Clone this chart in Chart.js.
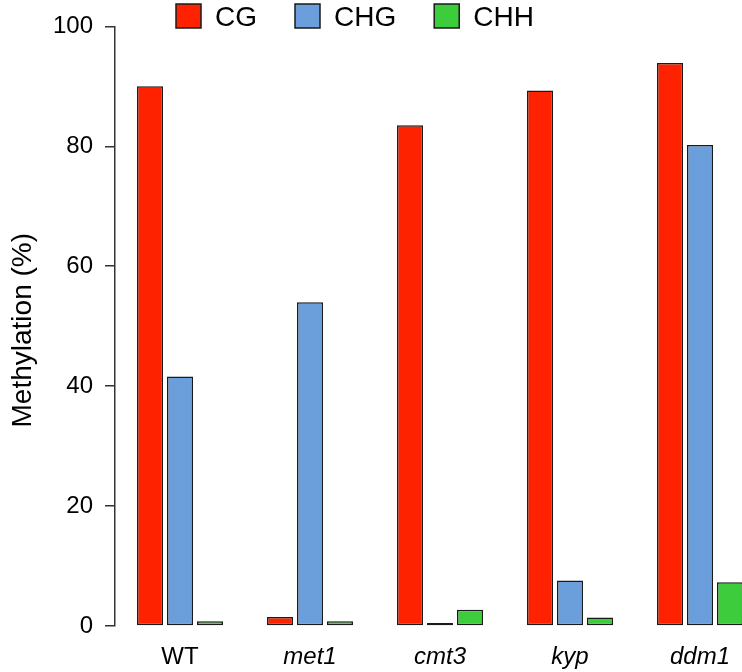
<!DOCTYPE html>
<html lang="en">
<head>
<meta charset="UTF-8">
<title>Methylation by context</title>
<script src="https://cdn.jsdelivr.net/npm/chart.js"></script>
<style>
  html, body { margin: 0; padding: 0; overflow: hidden; background: #fff; }
  canvas { display: block; }
</style>
</head>
<body>
<canvas id="chart" width="765" height="672"></canvas>
<script>
  const categories = ['WT', 'met1', 'cmt3', 'kyp', 'ddm1'];
  const seriesNames = ['CG', 'CHG', 'CHH'];
  const cgValues = [90.0, 1.5, 83.5, 89.3, 93.9];
  const chgValues = [41.6, 54.0, 0.5, 7.6, 80.2];
  const chhValues = [0.8, 0.8, 2.7, 1.4, 7.3];
  const yTicks = [0, 20, 40, 60, 80, 100];
  const colors = ['#ff2200', '#6a9fdb', '#3ccc3c'];

  const FONT = "'Liberation Sans', Arial, sans-serif";

  // legend + rotated y title drawn by hand so they can sit where R put them
  const extras = {
    id: 'extras',
    afterDraw(chart) {
      const ctx = chart.ctx;
      ctx.save();
      ctx.font = '28px ' + FONT;
      ctx.textBaseline = 'alphabetic';
      ctx.textAlign = 'left';
      let x = 176;
      chart.data.datasets.forEach(ds => {
        ctx.fillStyle = ds.backgroundColor;
        ctx.fillRect(x, 4, 25, 24);
        ctx.strokeStyle = '#1a1a1a';
        ctx.lineWidth = 1.5;
        ctx.strokeRect(x, 4, 25, 24);
        ctx.fillStyle = '#000';
        ctx.fillText(ds.label, x + 39, 26);
        x += 25 + 14 + ctx.measureText(ds.label).width + 38;
      });

      const area = chart.chartArea;
      ctx.translate(31, (area.top + area.bottom) / 2 + 4);
      ctx.rotate(-Math.PI / 2);
      ctx.textAlign = 'center';
      ctx.font = '28px ' + FONT;
      ctx.fillText('Methylation (%)', 0, 0);
      ctx.restore();
    }
  };

  new Chart(document.getElementById('chart'), {
    type: 'bar',
    data: {
      labels: categories,
      datasets: [cgValues, chgValues, chhValues].map((vals, i) => ({
        label: seriesNames[i],
        data: vals,
        backgroundColor: colors[i],
        borderColor: '#1a1a1a',
        borderWidth: 1.5,
        borderSkipped: false,
        categoryPercentage: 0.692,
        barPercentage: 0.867
      }))
    },
    options: {
      responsive: false,
      animation: false,
      layout: { padding: { top: 23, left: 0, right: 0, bottom: 0 } },
      plugins: { legend: { display: false }, tooltip: { enabled: false } },
      scales: {
        x: {
          grid: { display: false, drawTicks: false },
          border: { display: false },
          ticks: {
            color: '#000',
            padding: 17,
            font: c => ({ family: FONT, size: 24, style: c.index === 0 ? 'normal' : 'italic' })
          },
          afterFit: s => { s.height = 46; }
        },
        y: {
          min: 0,
          max: 100,
          afterBuildTicks: s => { s.ticks = yTicks.map(v => ({ value: v })); },
          grid: { display: true, drawOnChartArea: false, drawTicks: true, tickLength: 10, color: '#333', lineWidth: 1.5 },
          border: { display: true, color: '#333', width: 1.5 },
          ticks: { color: '#000', padding: 12, font: { family: FONT, size: 24 } },
          afterFit: s => { s.width = 115; }
        }
      }
    },
    plugins: [extras]
  });
</script>
</body>
</html>
